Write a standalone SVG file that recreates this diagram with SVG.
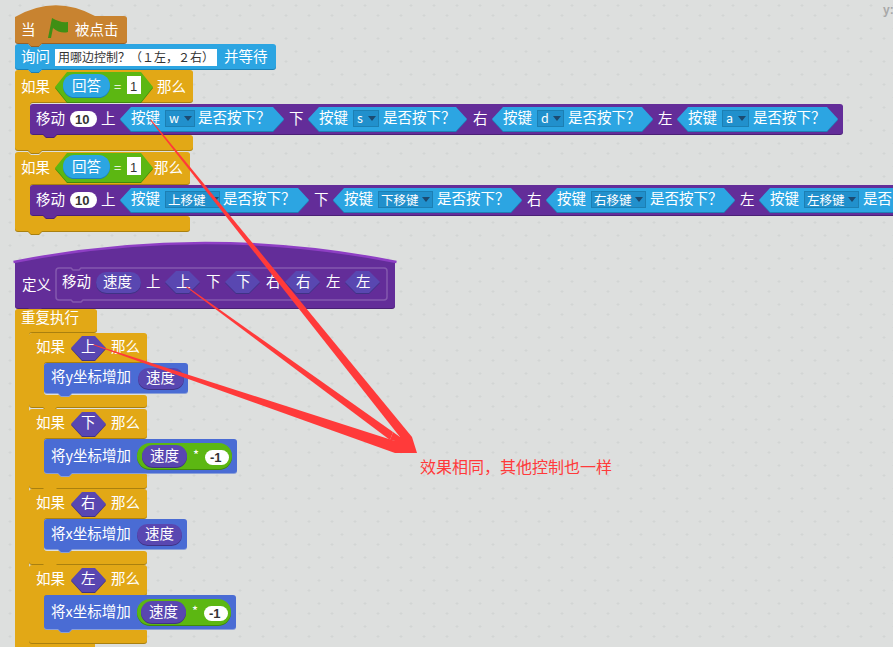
<svg xmlns="http://www.w3.org/2000/svg" xmlns:xlink="http://www.w3.org/1999/xlink" width="893" height="647" viewBox="0 0 893 647">
<style>
text{font-family:"Noto Sans CJK SC","Noto Sans",sans-serif;font-size:14.5px;fill:#fff}
.d{font-size:12.5px}
.k{fill:#333;font-size:12px;}
.n{fill:#333;font-weight:bold;font-size:13px;font-family:"Liberation Sans",sans-serif}
.ctl{fill:#e2a816;filter:drop-shadow(0 1px 0 #a9800f)}
.hat{fill:#c88330;filter:drop-shadow(0 1px 0 #96612a)}
.sens{fill:#2ca5e2;filter:drop-shadow(0 1px 0 #1c7fb3)}
.more{fill:#632d99;filter:drop-shadow(0 1px 0 #4a2075)}
.mot{fill:#4a6cd4;filter:drop-shadow(0 1px 0 #8a9fd8)}
.pill{fill:#2ca5e2;filter:drop-shadow(0 1px 0 #1c7fb3)}
.par{fill:#5947b1;filter:drop-shadow(0 1px 0 #3f3285)}
.grn{fill:#5cb712;filter:drop-shadow(0 1px 0 #3f8a0a)}
.wh{fill:#fff}
.dd{fill:#2190cc;stroke:#1c7fb3;stroke-width:1}
.tri{fill:#1c4a70}
.red{fill:#ff3a3a}
.coord{font-size:12px;font-weight:bold;fill:#a8a8a8;font-family:"Liberation Sans",sans-serif}
</style>
<defs>
<pattern id="grid" width="23" height="23" patternUnits="userSpaceOnUse">
<path d="M18.500,5.500h3M20,4v3M8.500,15.500h3M10,14v3" stroke="#d2d5d4" stroke-width="1"/>
</pattern>
<g id="tdd"><path d="M0,0h8l-4,5z" class="tri"/></g>
</defs>
<rect width="893" height="647" fill="#dddfde"/>
<rect width="893" height="647" fill="url(#grid)"/>
<g id="coords"><text x="883" y="14" class="coord">y:</text></g>

<g id="hat-flag">
<path class="hat" d="M15,17Q55,-6 95,16H124Q127,16 127,19V40Q127,43 124,43H42L39,46H31L28,43H18Q15,43 15,40Z"/>
<text x="21" y="35">当</text>
<path d="M48,38L52,18Q60,23 68,22V32Q60,34 53,28L51,38Z" fill="#3f8f14"/>
<text x="75" y="35">被点击</text>
</g>
<g id="ask">
<path class="sens" d="M18,44H28L31,47H39L42,44H273Q276,44 276,47V66Q276,69 273,69H42L39,72H31L28,69H18Q15,69 15,66V47Q15,44 18,44Z"/>
<text x="21" y="62">询问</text>
<rect x="55" y="49" width="162" height="17" class="wh"/>
<text x="58" y="62" class="k">用哪边控制&#xFF1F;&#xFF08;&#xFF11;左&#xFF0C;&#xFF12;右&#xFF09;</text>
<text x="224" y="62">并等待</text>
</g>
<g id="if1">
<path class="ctl" d="M18,70H28L31,73H39L42,70H190Q193,70 193,73V99Q193,102 190,102H33Q30,102 30,105V132Q30,135 33,135H190Q193,135 193,138V147Q193,150 190,150H42L39,153H31L28,150H18Q15,150 15,147V73Q15,70 18,70Z"/>
<text x="21" y="92">如果</text>
<path class="grn" d="M55,87L67,72H141L153,87L141,102H67Z"/>
<rect class="pill" x="63" y="74" width="47" height="23" rx="11.5"/>
<text x="72" y="91">回答</text>
<text x="114" y="92" style="font-size:13px">=</text>
<rect class="wh" x="127" y="76" width="14" height="18"/>
<text x="130" y="91" style="fill:#333;font-size:13px;font-family:'Liberation Sans',sans-serif">1</text>
<text x="157" y="92">那么</text>
</g>
<g id="move1">
<path class="more" d="M33,104H840Q843,104 843,107V131Q843,134 840,134H57L54,137H46L43,134H33Q30,134 30,131V107Q30,104 33,104Z"/>
<text x="36" y="124">移动</text>
<rect class="wh" x="70" y="111" width="27" height="16" rx="8"/>
<text x="75" y="124" class="n">10</text>
<text x="101" y="124">上</text>
<path class="sens" d="M120,119L131,107H273L284,119L273,131H131Z"/>
<text x="131" y="123">按键</text>
<rect class="dd" x="165.500" y="110.500" width="29" height="16"/>
<text x="169" y="123" class="d">w</text><use xlink:href="#tdd" x="184" y="116"/>
<text x="198" y="123">是否按下&#xFF1F;</text>
<text x="289" y="124">下</text>
<path class="sens" d="M308,119L319,107H456L467,119L456,131H319Z"/>
<text x="319" y="123">按键</text>
<rect class="dd" x="353.500" y="110.500" width="25" height="16"/>
<text x="357" y="123" class="d">s</text><use xlink:href="#tdd" x="368" y="116"/>
<text x="383" y="123">是否按下&#xFF1F;</text>
<text x="473" y="124">右</text>
<path class="sens" d="M492,119L503,107H642L653,119L642,131H503Z"/>
<text x="503" y="123">按键</text>
<rect class="dd" x="537.500" y="110.500" width="26" height="16"/>
<text x="541" y="123" class="d">d</text><use xlink:href="#tdd" x="553" y="116"/>
<text x="568" y="123">是否按下&#xFF1F;</text>
<text x="658" y="124">左</text>
<path class="sens" d="M677,119L688,107H827L838,119L827,131H688Z"/>
<text x="688" y="123">按键</text>
<rect class="dd" x="722.500" y="110.500" width="26" height="16"/>
<text x="726" y="123" class="d">a</text><use xlink:href="#tdd" x="738" y="116"/>
<text x="753" y="123">是否按下&#xFF1F;</text>
</g>
<g id="if2">
<path class="ctl" d="M18,152H28L31,155H39L42,152H187Q190,152 190,155V181Q190,184 187,184H33Q30,184 30,187V213Q30,216 33,216H187Q190,216 190,219V228Q190,231 187,231H42L39,234H31L28,231H18Q15,231 15,228V155Q15,152 18,152Z"/>
<text x="21" y="173">如果</text>
<path class="grn" d="M55,168L67,153H141L153,168L141,182H67Z"/>
<rect class="pill" x="63" y="155" width="47" height="23" rx="11.500"/>
<text x="72" y="172">回答</text>
<text x="114" y="173" style="font-size:13px">=</text>
<rect class="wh" x="127" y="157" width="14" height="18"/>
<text x="130" y="172" style="fill:#333;font-size:13px;font-family:'Liberation Sans',sans-serif">1</text>
<text x="154" y="173">那么</text>
</g>
<g id="move2">
<path class="more" d="M33,185H893V215H57L54,218H46L43,215H33Q30,215 30,212V188Q30,185 33,185Z"/>
<text x="36" y="205">移动</text>
<rect class="wh" x="70" y="192" width="27" height="16" rx="8"/>
<text x="75" y="205" class="n">10</text>
<text x="101" y="205">上</text>
<path class="sens" d="M120,200L131,188H298L309,200L298,212H131Z"/>
<text x="131" y="204">按键</text>
<rect class="dd" x="165.500" y="191.500" width="54" height="16"/>
<text x="168" y="205" class="d">上移键</text><use xlink:href="#tdd" x="211" y="197"/>
<text x="223" y="204">是否按下&#xFF1F;</text>
<text x="314" y="205">下</text>
<path class="sens" d="M333,200L344,188H511L522,200L511,212H344Z"/>
<text x="344" y="204">按键</text>
<rect class="dd" x="378.500" y="191.500" width="54" height="16"/>
<text x="381" y="205" class="d">下移键</text><use xlink:href="#tdd" x="422" y="197"/>
<text x="437" y="204">是否按下&#xFF1F;</text>
<text x="527" y="205">右</text>
<path class="sens" d="M546,200L557,188H724L735,200L724,212H557Z"/>
<text x="557" y="204">按键</text>
<rect class="dd" x="591.500" y="191.500" width="54" height="16"/>
<text x="594" y="205" class="d">右移键</text><use xlink:href="#tdd" x="635" y="197"/>
<text x="650" y="204">是否按下&#xFF1F;</text>
<text x="740" y="205">左</text>
<path class="sens" d="M759,200L770,188H900V212H770Z"/>
<text x="770" y="204">按键</text>
<rect class="dd" x="804.500" y="191.500" width="54" height="16"/>
<text x="807" y="205" class="d">左移键</text><use xlink:href="#tdd" x="848" y="197"/>
<text x="863" y="204">是否</text>
</g>
<g id="define">
<path class="more" d="M15,262Q205,224 395,262V305Q395,308 392,308H42L39,311H31L28,308H18Q15,308 15,305Z"/>
<path d="M13.500,262Q205,224 396.500,262" fill="none" stroke="#8e3fc4" stroke-width="2.500"/>
<path d="M59,268H71L73,270H79L81,268H384Q387,268 387,271V297Q387,300 384,300H83L81,302H73L71,300H59Q56,300 56,297V271Q56,268 59,268Z" fill="none" stroke="#8458ae" stroke-width="1.500"/>
<text x="22" y="290">定义</text>
<text x="62" y="287">移动</text>
<rect class="par" x="96" y="272" width="45" height="21" rx="10.500"/>
<text x="103" y="287">速度</text>
<text x="146" y="287">上</text>
<path class="par" d="M165,282L176,271H189L200,282L189,293H176Z"/>
<text x="176" y="287">上</text>
<text x="206" y="287">下</text>
<path class="par" d="M225,282L236,271H249L260,282L249,293H236Z"/>
<text x="236" y="287">下</text>
<text x="266" y="287">右</text>
<path class="par" d="M285,282L296,271H309L320,282L309,293H296Z"/>
<text x="296" y="287">右</text>
<text x="326" y="287">左</text>
<path class="par" d="M345,282L356,271H369L380,282L369,293H356Z"/>
<text x="356" y="287">左</text>
</g>
<g id="forever">
<path class="ctl" d="M18,309H94Q97,309 97,312V329Q97,332 94,332H32Q29,332 29,335V640Q29,643 32,643H95V650H15V312Q15,309 18,309Z"/>
<text x="21" y="323">重复执行</text>
</g>
<g id="if-up">
<path class="ctl" d="M32,333H144Q147,333 147,336V359Q147,362 144,362H47Q44,362 44,365V392Q44,395 47,395H144Q147,395 147,398V404Q147,407 144,407H57L54,410H46L43,407H32Q29,407 29,404V336Q29,333 32,333Z"/>
<text x="36" y="352">如果</text>
<path class="par" d="M71,348L82,336H95L106,348L95,360H82Z"/>
<text x="81" y="352">上</text>
<text x="111" y="352">那么</text>
</g>
<g id="set-y1">
<path class="mot" d="M47,363H185Q188,363 188,366V390Q188,393 185,393H72L69,396H61L58,393H47Q44,393 44,390V366Q44,363 47,363Z"/>
<text x="51" y="382">将y坐标增加</text>
<rect class="par" x="138" y="368" width="46" height="21" rx="10.500"/>
<text x="146" y="383">速度</text>
</g>
<g id="if-down">
<path class="ctl" d="M32,409H144Q147,409 147,412V435Q147,438 144,438H47Q44,438 44,441V470Q44,473 47,473H144Q147,473 147,476V485Q147,488 144,488H57L54,491H46L43,488H32Q29,488 29,485V412Q29,409 32,409Z"/>
<text x="36" y="428">如果</text>
<path class="par" d="M71,424L82,412H95L106,424L95,436H82Z"/>
<text x="81" y="428">下</text>
<text x="111" y="428">那么</text>
</g>
<g id="set-y2">
<path class="mot" d="M47,439H234Q237,439 237,442V470Q237,473 234,473H72L69,476H61L58,473H47Q44,473 44,470V442Q44,439 47,439Z"/>
<text x="51" y="461">将y坐标增加</text>
<rect class="grn" x="137" y="443" width="95" height="26" rx="13"/>
<rect class="par" x="142" y="445" width="45" height="22" rx="11"/>
<text x="150" y="461">速度</text>
<text x="193" y="460" style="font-size:13px">*</text>
<rect class="wh" x="205" y="450" width="24" height="15" rx="7.500"/>
<text x="210" y="462" class="n">-1</text>
</g>
<g id="if-right">
<path class="ctl" d="M32,489H144Q147,489 147,492V515Q147,518 144,518H47Q44,518 44,521V548Q44,551 47,551H144Q147,551 147,554V561Q147,564 144,564H57L54,567H46L43,564H32Q29,564 29,561V492Q29,489 32,489Z"/>
<text x="36" y="508">如果</text>
<path class="par" d="M71,504L82,492H95L106,504L95,516H82Z"/>
<text x="81" y="508">右</text>
<text x="111" y="508">那么</text>
</g>
<g id="set-x1">
<path class="mot" d="M47,519H184Q187,519 187,522V546Q187,549 184,549H72L69,552H61L58,549H47Q44,549 44,546V522Q44,519 47,519Z"/>
<text x="51" y="539">将x坐标增加</text>
<rect class="par" x="137" y="524" width="45" height="21" rx="10.500"/>
<text x="145" y="539">速度</text>
</g>
<g id="if-left">
<path class="ctl" d="M32,565H144Q147,565 147,568V592Q147,595 144,595H47Q44,595 44,598V626Q44,629 47,629H144Q147,629 147,632V640Q147,643 144,643H32Q29,643 29,640V568Q29,565 32,565Z"/>
<text x="36" y="584">如果</text>
<path class="par" d="M71,580L82,568H95L106,580L95,592H82Z"/>
<text x="81" y="584">左</text>
<text x="111" y="584">那么</text>
</g>
<g id="set-x2">
<path class="mot" d="M47,595H233Q236,595 236,598V626Q236,629 233,629H72L69,632H61L58,629H47Q44,629 44,626V598Q44,595 47,595Z"/>
<text x="51" y="617">将x坐标增加</text>
<rect class="grn" x="137" y="599" width="94" height="26" rx="13"/>
<rect class="par" x="141" y="601" width="45" height="22" rx="11"/>
<text x="149" y="617">速度</text>
<text x="192" y="616" style="font-size:13px">*</text>
<rect class="wh" x="204" y="606" width="24" height="15" rx="7.500"/>
<text x="209" y="618" class="n">-1</text>
</g>
<g id="connectors">
<path class="red" d="M150,120L151,119.500L412,437L400,437Z"/>
<path class="red" d="M186,287L187,286.500L393,432L390,440Z"/>
<path class="red" d="M93,345L94,344.500L395,441L395,453Z"/>
<path class="red" d="M417,453L395,453L395,441L390,440L393,432L400,437L412,437Z"/>
</g>
<text id="note" x="420" y="473" style="font-size:16px;fill:#ff3a3a">效果相同&#xFF0C;其他控制也一样</text>
</svg>
